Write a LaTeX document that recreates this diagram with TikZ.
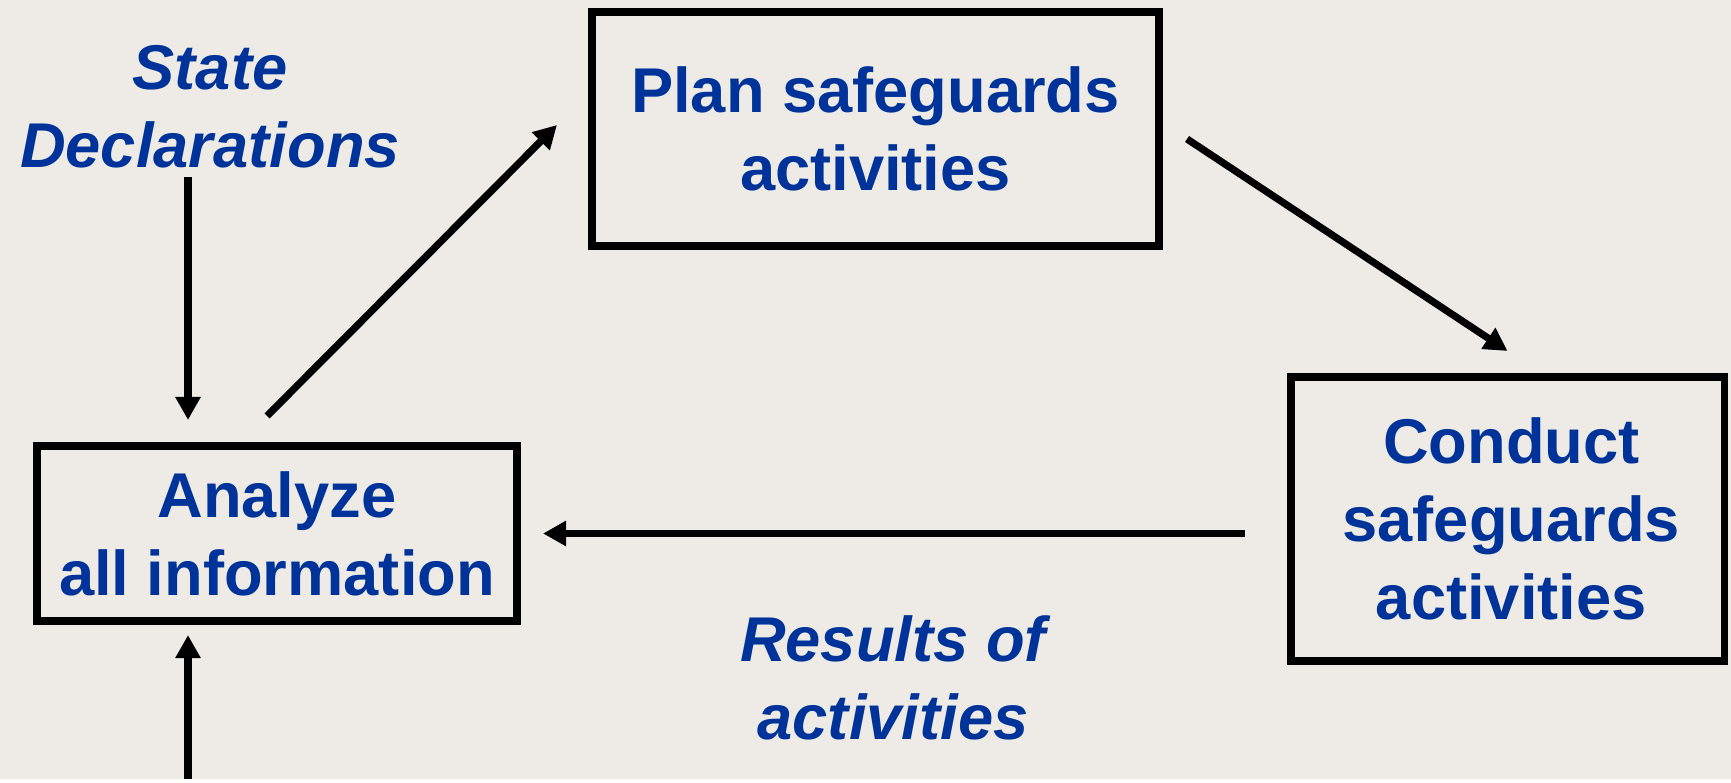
\documentclass[tikz,border=0pt]{standalone}
\usepackage{fontspec}
\setmainfont{Liberation Sans}
\usetikzlibrary{arrows.meta}
\definecolor{paper}{RGB}{238,235,231}
\definecolor{ink}{RGB}{0,51,153}
\begin{document}
\begin{tikzpicture}[>={Triangle[length=0.46cm,width=0.48cm]},
	box/.style={draw, line width=4.3pt, text=ink, align=center,
		font=\fontsize{36}{44.5}\selectfont\bfseries},
	note/.style={text=ink, align=center,
		font=\fontsize{36}{44.5}\selectfont\bfseries\itshape},
	arr/.style={->, line width=4.1pt}]
	\fill [paper] (0, 0) rectangle (34.62, -15.58);

	\node [box, minimum width=11.35cm, minimum height=4.69cm] (plan) at (17.51, -2.58) {Plan safeguards\\activities};
	\node [box, minimum width=9.61cm, minimum height=3.51cm] (analyze) at (5.54, -10.67) {Analyze\\all information};
	\node [box, minimum width=8.67cm, minimum height=5.69cm] (conduct) at (30.15, -10.38) {\hspace{0.15cm}Conduct\\\hspace{0.15cm}safeguards\\\hspace{0.15cm}activities};

	\node [note] (decl) at (4.2, -2.14) {State\\Declarations};
	\node [note] (results) at (17.86, -13.56) {Results of\\activities};

	\coordinate (declfeed) at (3.76, -3.54);
	\coordinate (infeed) at (3.76, -15.58);

	\draw [arr, shorten >=0.44cm] (declfeed) -- (declfeed |- analyze.north);
	\draw [arr] ([xshift=-0.2cm, yshift=0.52cm]analyze.north) -- ([xshift=-0.62cm, yshift=0.08cm]plan.west);
	\draw [arr] ([xshift=0.48cm, yshift=-0.2cm]plan.east) -- ([yshift=0.44cm]conduct.north);
	\draw [arr] ([xshift=-0.84cm]conduct.west |- analyze.east) -- ([xshift=0.44cm]analyze.east);
	\draw [arr, shorten >=0.2cm] (infeed) -- (infeed |- analyze.south);
\end{tikzpicture}
\end{document}
